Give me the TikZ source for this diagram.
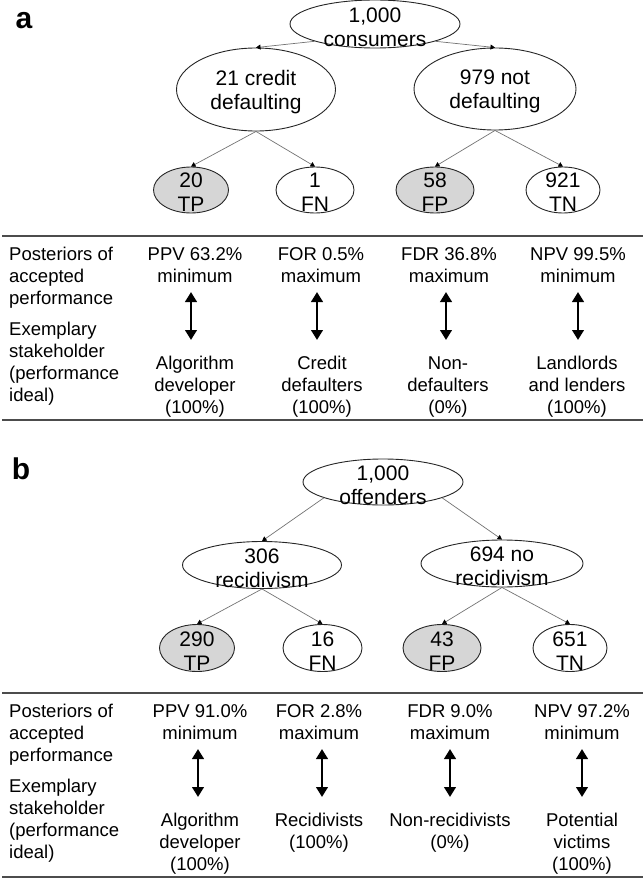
\documentclass[tikz,border=0pt]{standalone}
\usepackage{fontspec}
\setmainfont{Liberation Sans}
\usetikzlibrary{shapes.geometric,arrows.meta}
\begin{document}
\begin{tikzpicture}[x=1pt,y=-1pt,
  ell/.style={ellipse,draw=black!85,line width=0.9pt,inner sep=0pt,fill=white},
  leafg/.style={ell,fill=black!16},
  treetxt/.style={font=\fontsize{21}{24}\selectfont,align=center,inner sep=0pt},
  tabtxt/.style={font=\fontsize{18.5}{22}\selectfont,align=center,inner sep=0pt,anchor=north},
  lefttxt/.style={font=\fontsize{18.5}{22}\selectfont,align=left,inner sep=0pt,anchor=north west},
  treeedge/.style={draw=black!55,line width=0.7pt,-{Triangle[length=4.5pt,width=5pt,color=black]}},
  dbl/.style={line width=2.8pt,{Triangle[length=10pt,width=11.5pt]}-{Triangle[length=10pt,width=11.5pt]}},
  tabrule/.style={draw=black!70,line width=1.5pt},
  panellabel/.style={font=\fontsize{30}{36}\selectfont\bfseries,inner sep=0pt,anchor=base}
]
\useasboundingbox (0,0) rectangle (644,880);

% ---------------- Panel a ----------------
\node[panellabel] (lbla) at (24,29) {a};

\node[ell,minimum width=170pt,minimum height=48pt] (ra) at (375,24) {};
\node[ell,minimum width=159pt,minimum height=83pt] (ca1) at (256,89.5) {};
\node[ell,minimum width=162pt,minimum height=82pt] (ca2) at (495,89) {};
\node[leafg,minimum width=75pt,minimum height=46pt] (tpa) at (191,190) {};
\node[ell,minimum width=78pt,minimum height=46pt] (fna) at (315,190) {};
\node[leafg,minimum width=78pt,minimum height=46pt] (fpa) at (435,190) {};
\node[ell,minimum width=74pt,minimum height=46pt] (tna) at (563,190) {};

\node[treetxt] (rat) at (375,27.5) {1,000\\consumers};
\node[treetxt] (ca1t) at (256,92.5) {21 credit\\defaulting};
\node[treetxt] (ca2t) at (495,91.5) {979 not\\defaulting};
\node[treetxt] (tpat) at (191,192.5) {20\\TP};
\node[treetxt] (fnat) at (315,192.5) {1\\FN};
\node[treetxt] (fpat) at (435,192.5) {58\\FP};
\node[treetxt] (tnat) at (563,192.5) {921\\TN};

\draw[treeedge] (ra.196) -- (ca1.north);
\draw[treeedge] (ra.-16) -- (ca2.north);
\draw[treeedge] (ca1.south) -- (tpa.north);
\draw[treeedge] (ca1.south) -- (fna.north);
\draw[treeedge] (ca2.south) -- (fpa.north);
\draw[treeedge] (ca2.south) -- (tna.north);

\draw[tabrule] (2,236) -- (643,236);
\node[lefttxt] (pa1) at (9,244.6) {\strut Posteriors of\\accepted\\performance};
\node[lefttxt] (pa2) at (9,319.6) {\strut Exemplary\\stakeholder\\(performance\\ideal)};

\node[tabtxt] (ppva) at (195,244.6) {\strut PPV 63.2\%\\minimum};
\node[tabtxt] (fora) at (321,244.6) {\strut FOR 0.5\%\\maximum};
\node[tabtxt] (fdra) at (449,244.6) {\strut FDR 36.8\%\\maximum};
\node[tabtxt] (npva) at (578,244.6) {\strut NPV 99.5\%\\minimum};

\node[tabtxt] (sa1) at (195,353.6) {\strut Algorithm\\developer\\(100\%)};
\node[tabtxt] (sa2) at (322,353.6) {\strut Credit\\defaulters\\(100\%)};
\node[tabtxt] (sa3) at (448,353.6) {\strut Non-\\defaulters\\(0\%)};
\node[tabtxt] (sa4) at (577,353.6) {\strut Landlords\\and lenders\\(100\%)};

\foreach \x/\n in {191/1,317/2,446/3,578/4}{
  \coordinate (aat\n) at (\x,292);
  \coordinate (aab\n) at (\x,340);
  \draw[dbl] (aat\n) -- (aab\n);
}
\draw[tabrule] (2,420) -- (643,420);

% ---------------- Panel b ----------------
\node[panellabel] (lblb) at (21,479.5) {b};

\node[ell,minimum width=160pt,minimum height=46pt] (rb) at (383,482) {};
\node[ell,minimum width=159pt,minimum height=47pt] (cb1) at (262,565) {};
\node[ell,minimum width=162pt,minimum height=47pt] (cb2) at (502,563.5) {};
\node[leafg,minimum width=75pt,minimum height=47pt] (tpb) at (197,648) {};
\node[ell,minimum width=79pt,minimum height=47pt] (fnb) at (322.5,648) {};
\node[leafg,minimum width=78pt,minimum height=47pt] (fpb) at (442,648) {};
\node[ell,minimum width=74pt,minimum height=47pt] (tnb) at (570,648) {};

\node[treetxt] (rbt) at (383,485) {1,000\\offenders};
\node[treetxt] (cb1t) at (262,568) {306\\recidivism};
\node[treetxt] (cb2t) at (502,566.5) {694 no\\recidivism};
\node[treetxt] (tpbt) at (197,651) {290\\TP};
\node[treetxt] (fnbt) at (322.5,651) {16\\FN};
\node[treetxt] (fpbt) at (442,651) {43\\FP};
\node[treetxt] (tnbt) at (570,651) {651\\TN};

\draw[treeedge] (rb.195) -- (cb1.north);
\draw[treeedge] (rb.-15) -- (cb2.north);
\draw[treeedge] (cb1.south) -- (tpb.north);
\draw[treeedge] (cb1.south) -- (fnb.north);
\draw[treeedge] (cb2.south) -- (fpb.north);
\draw[treeedge] (cb2.south) -- (tnb.north);

\draw[tabrule] (2,693) -- (643,693);
\node[lefttxt] (pb1) at (9,701.6) {\strut Posteriors of\\accepted\\performance};
\node[lefttxt] (pb2) at (9,776.6) {\strut Exemplary\\stakeholder\\(performance\\ideal)};

\node[tabtxt] (ppvb) at (200,701.6) {\strut PPV 91.0\%\\minimum};
\node[tabtxt] (forb) at (319,701.6) {\strut FOR 2.8\%\\maximum};
\node[tabtxt] (fdrb) at (450,701.6) {\strut FDR 9.0\%\\maximum};
\node[tabtxt] (npvb) at (582,701.6) {\strut NPV 97.2\%\\minimum};

\node[tabtxt] (sb1) at (200,810.6) {\strut Algorithm\\developer\\(100\%)};
\node[tabtxt] (sb2) at (319,810.6) {\strut Recidivists\\(100\%)};
\node[tabtxt] (sb3) at (450,810.6) {\strut Non-recidivists\\(0\%)};
\node[tabtxt] (sb4) at (582,810.6) {\strut Potential\\victims\\(100\%)};

\foreach \x/\n in {198/1,322/2,450/3,582/4}{
  \coordinate (abt\n) at (\x,749);
  \coordinate (abb\n) at (\x,797);
  \draw[dbl] (abt\n) -- (abb\n);
}
\draw[tabrule] (2,877) -- (643,877);
\end{tikzpicture}
\end{document}
